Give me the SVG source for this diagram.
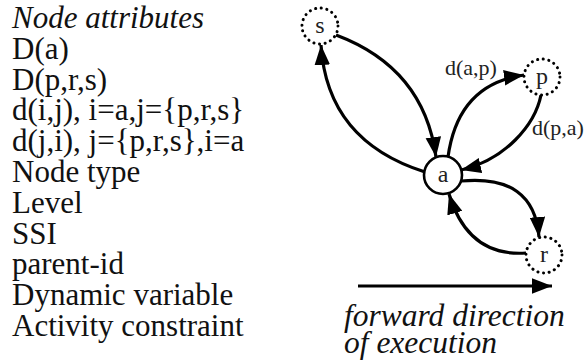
<svg xmlns="http://www.w3.org/2000/svg" width="584" height="362" viewBox="0 0 584 362">
<style>
.t{font-family:'Liberation Serif','Times New Roman',serif;font-size:31px;fill:#111}
.i{font-style:italic}
.lbl{font-family:'Liberation Serif','Times New Roman',serif;font-size:22px;fill:#222}
.nl{font-family:'Liberation Serif','Times New Roman',serif;font-size:24px;fill:#222;text-anchor:middle}
.dot{fill:#fff;stroke:#000;stroke-width:3;stroke-dasharray:0.1 5.6;stroke-linecap:round}
.solid{fill:#fff;stroke:#000;stroke-width:2.6}
.e{fill:none;stroke:#000;stroke-width:3.2;marker-end:url(#ah)}
</style>
<defs>
<marker id="ah" markerUnits="userSpaceOnUse" markerWidth="20" markerHeight="16" refX="18" refY="7" orient="auto" viewBox="0 0 18 14">
<path d="M0,0 L18,7 L0,14 Z" fill="#000"/>
</marker>
</defs>
<g id="attributes">
<text class="t i" x="12" y="28">Node attributes</text>
<text class="t" x="12" y="58.8">D(a)</text>
<text class="t" x="12" y="89.6">D(p,r,s)</text>
<text class="t" x="12" y="120.4">d(i,j), i=a,j={p,r,s}</text>
<text class="t" x="12" y="151.2">d(j,i), j={p,r,s},i=a</text>
<text class="t" x="12" y="182">Node type</text>
<text class="t" x="12" y="212.8">Level</text>
<text class="t" x="12" y="243.6">SSI</text>
<text class="t" x="12" y="274.4">parent-id</text>
<text class="t" x="12" y="305.2">Dynamic variable</text>
<text class="t" x="12" y="336">Activity constraint</text>
</g>
<g id="connectors">
<path class="e" d="M336,35 Q424,68 436,157"/>
<path class="e" d="M425,172 Q327,141 321,45"/>
<path class="e" d="M448,157 Q458,84 524,75"/>
<path class="e" d="M541,95 C535,125 505,160 461,170"/>
<path class="e" d="M461,181 Q534,174 539,237"/>
<path class="e" d="M526,253 Q468,257 449,194"/>
<path class="e" d="M358,286 L552,286"/>
</g>
<g id="node-s"><circle class="dot" cx="320" cy="26" r="18"/><text class="nl" x="320" y="33">s</text></g>
<g id="node-p"><circle class="dot" cx="542" cy="77" r="18"/><text class="nl" x="542" y="84">p</text></g>
<g id="node-r"><circle class="dot" cx="544" cy="255" r="18"/><text class="nl" x="544" y="262">r</text></g>
<g id="node-a"><circle class="solid" cx="443" cy="175" r="19"/><text class="nl" x="443" y="182">a</text></g>
<g id="labels">
<text class="lbl" x="445" y="75">d(a,p)</text>
<text class="lbl" x="532" y="135">d(p,a)</text>
<text class="t i" x="344" y="326" style="font-size:31.5px">forward direction</text>
<text class="t i" x="344" y="353" style="font-size:31.5px">of execution</text>
</g>
</svg>
